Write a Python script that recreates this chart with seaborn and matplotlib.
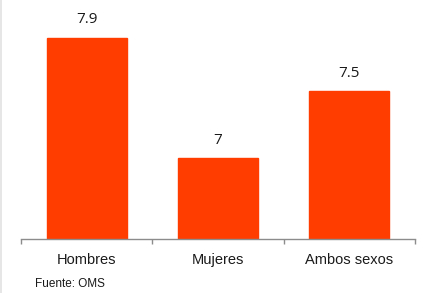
import matplotlib
matplotlib.use("Agg")
import matplotlib.pyplot as plt
import seaborn as sns
import pandas as pd
from matplotlib.patches import Rectangle

sns.set_theme(style="white")
plt.rcParams['font.family'] = ['Liberation Sans Narrow', 'Liberation Sans', 'DejaVu Sans']

categorias = ["Hombres", "Mujeres", "Ambos sexos"]
valores = [7.9, 7.0, 7.5]
etiquetas = ["7.9", "7", "7.5"]
fuente = "Fuente: OMS"

df = pd.DataFrame({"categoria": categorias, "valor": valores})

fig = plt.figure(figsize=(4.34, 2.93), dpi=100)
ax = fig.add_axes([21 / 434, 54 / 293, 394 / 434, 239 / 293])

sns.barplot(data=df, x="categoria", y="valor", color="#FF3D00", saturation=1,
            width=0.61, ax=ax, edgecolor="#FF3D00")

ax.set_ylim(6.4, 8.18)
ax.set_xlim(-0.5, 2.5)
ax.set_xlabel("")
ax.set_ylabel("")
ax.set_yticks([])

for s in ["top", "right", "left"]:
    ax.spines[s].set_visible(False)
ax.spines["bottom"].set_color("#8c8c8c")
ax.spines["bottom"].set_linewidth(1.0)

ax.set_xticks(range(len(categorias)))
ax.set_xticklabels(categorias, fontsize=10.5, color="#1a1a1a")
ax.tick_params(axis="x", which="major", length=0, pad=10)
ax.set_xticks([-0.5, 0.5, 1.5, 2.5], minor=True)
ax.tick_params(axis="x", which="minor", length=3.5, width=1.0, color="#8c8c8c", direction="out")
ax.tick_params(axis="x", which="minor", bottom=True)

for i, (v, t) in enumerate(zip(valores, etiquetas)):
    ax.annotate(t, (i, v), xytext=(0, 13), textcoords="offset points",
                ha="center", va="center", fontsize=11, color="#1a1a1a",
                family=["Open Sans", "DejaVu Sans"])

fig.text(35 / 434, 1 - 284 / 293, fuente, fontsize=8.5, color="#1a1a1a",
         ha="left", va="center")

fig.patches.append(Rectangle((0, 0), 2 / 434, 1, transform=fig.transFigure,
                             facecolor="#e6e6e6", edgecolor="none"))

fig.savefig("out.png", dpi=100)
